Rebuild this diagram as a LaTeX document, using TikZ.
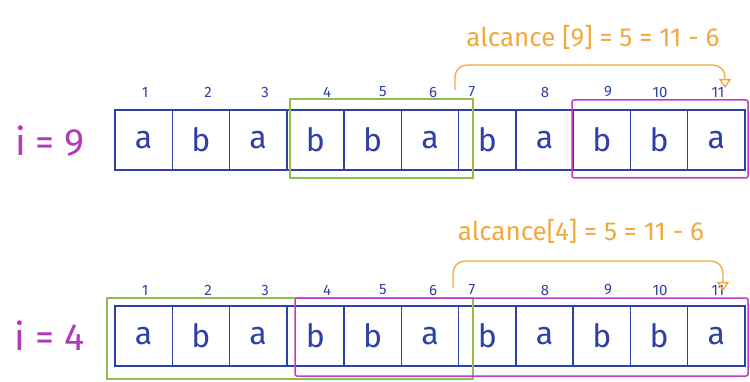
\documentclass[tikz,border=0pt]{standalone}
\usepackage{fontspec}
\setmainfont{Fira Sans}
\usetikzlibrary{arrows.meta}
\definecolor{cblue}{HTML}{2E3FA6}
\definecolor{cgreen}{HTML}{93BC4A}
\definecolor{cmag}{HTML}{C23BC8}
\definecolor{corange}{HTML}{F2A93B}
\definecolor{cpurple}{HTML}{B03AB8}
\tikzset{
  cell/.style={draw=cblue, line width=1.4pt, minimum width=57.27pt, minimum height=60pt, inner sep=0pt, font=\fontsize{32}{32}\selectfont, text=cblue},
  idx/.style={font=\fontsize{15}{15}\selectfont, text=cblue, inner sep=0pt},
  ilabel/.style={font=\fontsize{38}{38}\selectfont, text=cpurple},
  alabel/.style={font=\fontsize{26}{26}\selectfont, text=corange},
  gbox/.style={draw=cgreen, line width=1.3pt},
  mbox/.style={draw=cmag, line width=1.5pt, rounded corners=2pt},
  reach/.style={draw=corange, line width=1.3pt, rounded corners=12pt, -{Triangle[open,length=9pt,width=12pt]}}
}
\begin{document}
\begin{tikzpicture}[x=1pt,y=-1pt]
\useasboundingbox (0,0) rectangle (750,382);
\foreach \c [count=\k] in {a,b,a,b,b,a,b,a,b,b,a}{
  \node[cell] (t\k) at ({115+57.27*(\k-0.5)},140) {\c};
  \node[cell] (b\k) at ({115+57.27*(\k-0.5)},336) {\c};
}
\foreach \x [count=\k] in {145,208,265,327,383,433,472,545,608,660,718}{
  \node[idx] (tn\k) at (\x,92) {\k};
  \node[idx] (bn\k) at (\x,290) {\k};
}
\node[ilabel] (li9) at (50,141) {i = 9};
\node[ilabel] (li4) at (50,336) {i = 4};
\node[alabel] (la9) at (593,37) {alcance [9] = 5 = 11 - 6};
\node[alabel] (la4) at (581,231) {alcance[4] = 5 = 11 - 6};
\coordinate (g1a) at (290,99);  \coordinate (g1b) at (473,178);
\coordinate (m1a) at (572,100); \coordinate (m1b) at (748,178);
\coordinate (g2a) at (107,298); \coordinate (g2b) at (473,379);
\coordinate (m2a) at (295,298); \coordinate (m2b) at (748,376);
\draw[gbox] (g1a) rectangle (g1b);
\draw[mbox] (m1a) rectangle (m1b);
\draw[gbox] (g2a) rectangle (g2b);
\draw[mbox] (m2a) rectangle (m2b);
\coordinate (s9) at (455,90); \coordinate (e9) at (725,88);
\coordinate (s4) at (453,288); \coordinate (e4) at (723,291);
\draw[reach] (s9) -- ++(0,-25) -| (e9);
\draw[reach] (s4) -- ++(0,-27) -| (e4);
\end{tikzpicture}
\end{document}
